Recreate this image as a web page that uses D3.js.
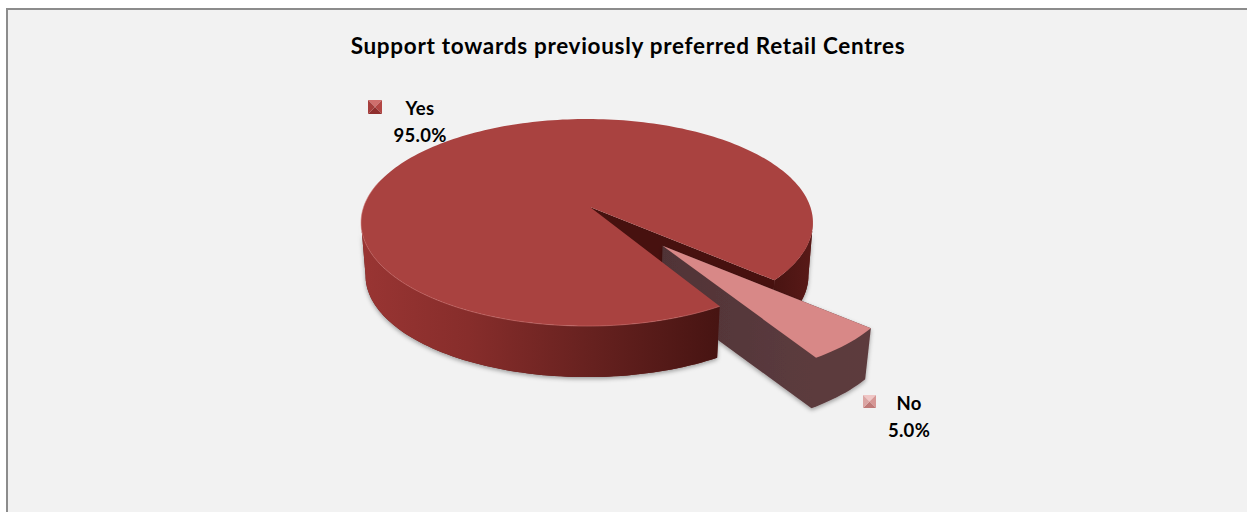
<!DOCTYPE html>
<html>
<head>
<meta charset="utf-8">
<script src="https://cdn.jsdelivr.net/npm/d3@7/dist/d3.min.js"></script>
<style>
html,body{margin:0;padding:0;background:#fff;overflow:hidden}
text{font-family:Lato,"Open Sans",sans-serif;font-weight:700;fill:#000}
</style>
</head>
<body>
<svg id="chart" width="1247" height="512"></svg>
<script>
const categories = ["Yes", "No"];
const shares = [95.0, 5.0];
const chartTitle = "Support towards previously preferred Retail Centres";

const width = 1247, height = 512;
const deg = Math.PI / 180;

// Ground-plane camera: u runs right, v runs toward the viewer.
const camera = {cx: 587, cy: 207, radius: 223.4, squash: 101.2, persp: 0.15, floorScale: 0.98, depth: 53.4};
const explodeNo = 0.475;
const startAngle = 148.8 * deg;
// The wedge tips sit a touch right of the disc centre.
const tipShift = 0.0134;

function project(u, v, floor) {
  const w = 1 - camera.persp * v;
  const s = floor ? camera.floorScale : 1;
  return [
    camera.cx + s * camera.radius * u / w,
    camera.cy + (floor ? camera.depth : 0) + s * camera.squash * v / w
  ];
}
// Clock angle from 12 o'clock, with the far side of the disc at the top.
function rim(angle, offset, floor) {
  return project(offset[0] + Math.sin(angle), offset[1] - Math.cos(angle), floor);
}
function sweep(a0, a1, offset, floor) {
  const n = Math.max(2, Math.ceil(Math.abs(a1 - a0) / (1.5 * deg)));
  return d3.range(n + 1).map(i => rim(a0 + (a1 - a0) * i / n, offset, floor));
}

const pie = d3.pie().sort(null).value(d => d)
  .startAngle(startAngle).endAngle(startAngle + 2 * Math.PI);
const [yes, no] = pie(shares);
const noMid = (no.startAngle + no.endAngle) / 2;
const noOffset = [explodeNo * Math.sin(noMid) + tipShift, -explodeNo * Math.cos(noMid)];
const base = [0, 0];

const line = d3.line();
const closed = pts => line(pts) + "Z";

const svg = d3.select("#chart");
const defs = svg.append("defs");

function linear(id, x1, x2, stops) {
  const g = defs.append("linearGradient").attr("id", id)
    .attr("gradientUnits", "userSpaceOnUse")
    .attr("x1", x1).attr("x2", x2).attr("y1", 0).attr("y2", 0);
  stops.forEach(s => g.append("stop").attr("offset", s[0]).attr("stop-color", s[1]));
}
linear("wallYes", 361, 718, [[0, "#993533"], [0.3, "#872d2b"], [0.65, "#66211f"], [1, "#471412"]]);
linear("wallBack", 770, 815, [[0, "#471311"], [1, "#5a1a18"]]);
linear("wallNo", 660, 870, [[0, "#503336"], [0.6, "#5a3a3d"], [1, "#5d3b3e"]]);

const soft = defs.append("filter").attr("id", "shade")
  .attr("x", "-10%").attr("y", "-10%").attr("width", "120%").attr("height", "125%");
soft.append("feDropShadow").attr("dx", 0).attr("dy", 2).attr("stdDeviation", 2.2)
  .attr("flood-color", "#000").attr("flood-opacity", 0.35);

// Panel with its grey top and left rules
svg.append("rect").attr("width", width).attr("height", height).attr("fill", "#ffffff");
svg.append("rect").attr("x", 6).attr("y", 8).attr("width", width - 6).attr("height", height - 8).attr("fill", "#f2f2f2");
svg.append("rect").attr("x", 6).attr("y", 8).attr("width", width - 6).attr("height", 2).attr("fill", "#8c8c8c");
svg.append("rect").attr("x", 6).attr("y", 8).attr("width", 2).attr("height", height - 8).attr("fill", "#8c8c8c");

svg.append("text").attr("x", 628).attr("y", 54).attr("text-anchor", "middle")
  .attr("font-size", 22.5).attr("letter-spacing", 0.7).text(chartTitle);

const leftmost = 261.4 * deg;
const rightmost = (360 + 98.6) * deg;
const tip = [tipShift, 0];

const wallFront = closed(sweep(yes.startAngle, leftmost, base, false).concat(sweep(leftmost, yes.startAngle, base, true)));
const wallRight = closed(sweep(rightmost, yes.endAngle, base, false).concat(sweep(yes.endAngle, rightmost, base, true)));

// Soft shadow under the main body
const gShadow = svg.append("g");
gShadow.append("path").attr("filter", "url(#shade)").attr("fill", "#5a1a18").attr("d", wallFront);
gShadow.append("path").attr("filter", "url(#shade)").attr("fill", "#5a1a18").attr("d", wallRight);

// Cut face seen through the gap, then the far part of the outer wall
svg.append("path").attr("fill", "#47110f")
  .attr("d", closed([project(tip[0], tip[1], false), rim(yes.endAngle, base, false), rim(yes.endAngle, base, true), project(tip[0], tip[1], true)]));
svg.append("path").attr("fill", "url(#wallBack)").attr("d", wallRight);

// Pulled-out slice body sits behind the front of the main slice
const apexTop = project(noOffset[0], noOffset[1], false);
const apexFloor = project(noOffset[0], noOffset[1], true);
svg.append("path").attr("filter", "url(#shade)").attr("fill", "url(#wallNo)")
  .attr("d", closed([apexTop, rim(no.startAngle, noOffset, false)].concat(sweep(no.startAngle, no.endAngle, noOffset, true), [apexFloor])));

// Front wall and top face of the main slice
svg.append("path").attr("fill", "url(#wallYes)").attr("d", wallFront);
svg.append("path").attr("fill", "#a94240")
  .attr("d", closed([project(tip[0], tip[1], false)].concat(sweep(yes.startAngle, yes.endAngle, base, false))));
svg.append("path").attr("fill", "none").attr("stroke", "#cf7472").attr("stroke-opacity", 0.55).attr("stroke-width", 1)
  .attr("d", line(sweep(yes.startAngle, 285 * deg, base, false)));

// Top face of the pulled-out slice
svg.append("path").attr("fill", "#d88887")
  .attr("d", closed([apexTop].concat(sweep(no.startAngle, no.endAngle, noOffset, false))));

// Legend keys drawn as small bevelled squares, one shade per facet
function bevelKey(x, y, size, shades) {
  const c = [x + size / 2, y + size / 2];
  const corners = [[x, y], [x + size, y], [x + size, y + size], [x, y + size]];
  const g = svg.append("g");
  corners.forEach((p, i) => {
    g.append("path").attr("fill", shades[i]).attr("d", closed([p, corners[(i + 1) % 4], c]));
  });
}
const keyShades = {
  Yes: ["#cf6f6d", "#b34745", "#8f2f2e", "#a63f3d"],
  No: ["#f0c6c5", "#d69795", "#c07a78", "#dba5a3"]
};
const labelSpots = {
  Yes: {key: [368, 100], x: 420, y: 115, size: 14},
  No: {key: [863, 395], x: 909, y: 410, size: 13}
};
categories.forEach((name, i) => {
  const spot = labelSpots[name];
  bevelKey(spot.key[0], spot.key[1], spot.size, keyShades[name]);
  svg.append("text").attr("x", spot.x).attr("y", spot.y).attr("text-anchor", "middle")
    .attr("font-size", 18.5).attr("letter-spacing", 0.3).text(name);
  svg.append("text").attr("x", spot.x).attr("y", spot.y + 27).attr("text-anchor", "middle")
    .attr("font-size", 18.5).attr("letter-spacing", 0.3).text(d3.format(".1f")(shares[i]) + "%");
});
</script>
</body>
</html>
